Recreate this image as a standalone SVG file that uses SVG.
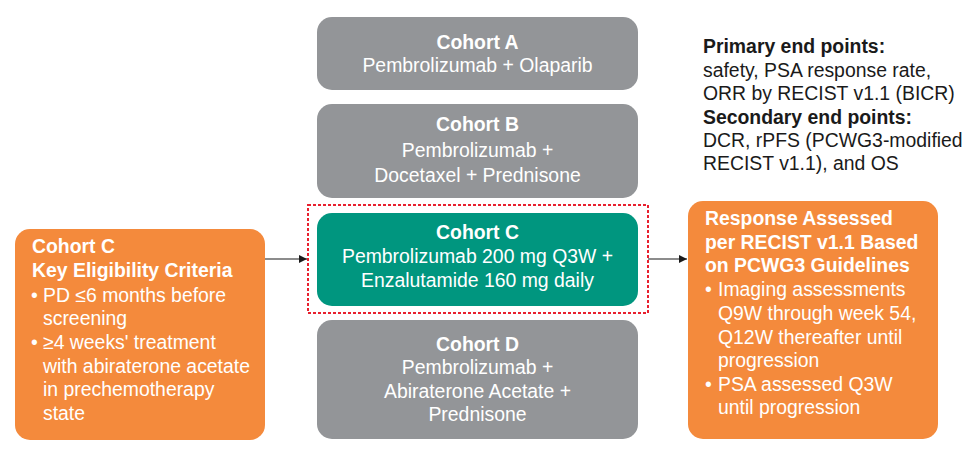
<svg xmlns="http://www.w3.org/2000/svg" width="974" height="452" viewBox="0 0 974 452">
<style>
text{font-family:"Liberation Sans",Arial,sans-serif;font-size:19.4px;}
.w{fill:#ffffff;}
.b{font-weight:bold;}
.c{text-anchor:middle;}
.k{fill:#1a1a1a;}
.gray{fill:#939598;}
.green{fill:#00967f;}
.orange{fill:#f48a3c;}
.conn{stroke:#1a1a1a;stroke-width:1.2;fill:none;}
</style>
<defs>
<marker id="ah" viewBox="0 0 10 10" refX="10" refY="5" markerWidth="8" markerHeight="8" orient="auto" markerUnits="userSpaceOnUse">
<path d="M0,0 L10,5 L0,10 z" fill="#1a1a1a"/>
</marker>
</defs>
<rect width="974" height="452" fill="#ffffff"/>

<g id="cohortA">
<rect class="gray" x="317" y="17" width="321" height="73" rx="15"/>
<text class="w b c" x="477.5" y="49">Cohort A</text>
<text class="w c" x="477.5" y="72">Pembrolizumab + Olaparib</text>
</g>

<g id="cohortB">
<rect class="gray" x="317" y="104" width="321" height="94" rx="15"/>
<text class="w b c" x="477.5" y="131">Cohort B</text>
<text class="w c" x="477.5" y="157">Pembrolizumab +</text>
<text class="w c" x="477.5" y="182">Docetaxel + Prednisone</text>
</g>

<g id="cohortC">
<rect x="308" y="205" width="340" height="108" fill="none" stroke="#e8202e" stroke-width="2" stroke-dasharray="3,2"/>
<rect class="green" x="317" y="213" width="321" height="93" rx="15"/>
<text class="w b c" x="477.5" y="239">Cohort C</text>
<text class="w c" x="477.5" y="263">Pembrolizumab 200 mg Q3W +</text>
<text class="w c" x="477.5" y="287">Enzalutamide 160 mg daily</text>
</g>

<g id="cohortD">
<rect class="gray" x="317" y="320" width="321" height="119" rx="15"/>
<text class="w b c" x="477.5" y="351">Cohort D</text>
<text class="w c" x="477.5" y="374">Pembrolizumab +</text>
<text class="w c" x="477.5" y="398">Abiraterone Acetate +</text>
<text class="w c" x="477.5" y="421">Prednisone</text>
</g>

<g id="eligibility">
<rect class="orange" x="15" y="229" width="250" height="211" rx="15"/>
<text class="w b" x="32" y="253">Cohort C</text>
<text class="w b" x="32" y="277">Key Eligibility Criteria</text>
<text class="w" x="31" y="302">•</text>
<text class="w" x="43" y="302">PD ≤6 months before</text>
<text class="w" x="43" y="325">screening</text>
<text class="w" x="31" y="349">•</text>
<text class="w" x="43" y="349">≥4 weeks' treatment</text>
<text class="w" x="43" y="373">with abiraterone acetate</text>
<text class="w" x="43" y="396">in prechemotherapy</text>
<text class="w" x="43" y="420">state</text>
</g>

<g id="response">
<rect class="orange" x="688" y="201" width="250" height="238" rx="15"/>
<text class="w b" x="705" y="225">Response Assessed</text>
<text class="w b" x="705" y="249">per RECIST v1.1 Based</text>
<text class="w b" x="705" y="272">on PCWG3 Guidelines</text>
<text class="w" x="705" y="296">•</text>
<text class="w" x="718" y="296">Imaging assessments</text>
<text class="w" x="718" y="320">Q9W through week 54,</text>
<text class="w" x="718" y="344">Q12W thereafter until</text>
<text class="w" x="718" y="367">progression</text>
<text class="w" x="705" y="391">•</text>
<text class="w" x="718" y="391">PSA assessed Q3W</text>
<text class="w" x="718" y="414">until progression</text>
</g>

<g id="endpoints">
<text class="k b" x="703" y="53">Primary end points:</text>
<text class="k" x="703" y="77">safety, PSA response rate,</text>
<text class="k" x="703" y="100">ORR by RECIST v1.1 (BICR)</text>
<text class="k b" x="703" y="124">Secondary end points:</text>
<text class="k" x="703" y="147">DCR, rPFS (PCWG3-modified</text>
<text class="k" x="703" y="170">RECIST v1.1), and OS</text>
</g>

<g id="connectors">
<line class="conn" x1="265" y1="259" x2="307" y2="259" marker-end="url(#ah)"/>
<line class="conn" x1="648" y1="259" x2="687" y2="259" marker-end="url(#ah)"/>
</g>
</svg>
